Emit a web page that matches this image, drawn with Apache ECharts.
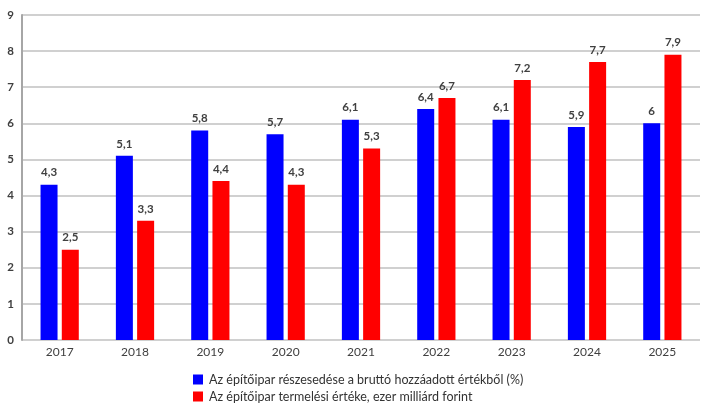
<!DOCTYPE html>
<html>
<head>
<meta charset="utf-8">
<script src="https://cdn.jsdelivr.net/npm/echarts@6/dist/echarts.min.js"></script>
<style>
  html, body { margin: 0; padding: 0; background: #fff; }
  #chart { width: 707px; height: 404px; }
</style>
</head>
<body>
<div id="chart"></div>
<script>
// Years on the category axis
const years = ['2017', '2018', '2019', '2020', '2021', '2022', '2023', '2024', '2025'];
// Share of construction in gross value added (%)
const shareValues = [4.3, 5.1, 5.8, 5.7, 6.1, 6.4, 6.1, 5.9, 6];
// Construction output, thousand billion forint
const outputValues = [2.5, 3.3, 4.4, 4.3, 5.3, 6.7, 7.2, 7.7, 7.9];
const seriesNames = [
  'Az építőipar részesedése a bruttó hozzáadott értékből (%)',
  'Az építőipar termelési értéke, ezer milliárd forint'
];

const font = 'Lato, "Open Sans", "Liberation Sans", sans-serif';
const fmt = v => String(v).replace('.', ',');

const chart = echarts.init(document.getElementById('chart'), null, { renderer: 'canvas' });

const labelStyle = {
  show: true,
  position: 'top',
  distance: 6,
  color: '#404040',
  fontFamily: font,
  fontSize: 11.5,
  fontWeight: 'bold',
  formatter: p => fmt(p.value)
};

// One legend row per series, stacked under the plot
const legendRow = (name, top) => ({
  orient: 'horizontal',
  left: 193,
  top: top,
  padding: 0,
  itemWidth: 10,
  itemHeight: 10,
  icon: 'rect',
  textStyle: { color: '#333', fontSize: 12.5, fontFamily: font, padding: [0, 0, 0, 1] },
  data: [name]
});

chart.setOption({
  animation: false,
  textStyle: { fontFamily: font },
  grid: { left: 22, right: 7, top: 15, bottom: 64, containLabel: false },
  legend: [legendRow(seriesNames[0], 373), legendRow(seriesNames[1], 390)],
  xAxis: {
    type: 'category',
    data: years,
    axisLine: { show: false },
    axisTick: { show: false },
    axisLabel: { color: '#404040', fontSize: 12, fontFamily: font, margin: 6 }
  },
  yAxis: {
    type: 'value',
    min: 0,
    max: 9,
    interval: 1,
    axisLine: { show: true, lineStyle: { color: '#a6a6a6', width: 2 } },
    axisTick: { show: false },
    axisLabel: { color: '#404040', fontSize: 11.5, fontFamily: font, fontWeight: 'bold', margin: 8 },
    splitLine: { show: true, lineStyle: { color: '#d0d0d0', width: 2 } }
  },
  series: [
    {
      name: seriesNames[0],
      type: 'bar',
      data: shareValues,
      barWidth: 17,
      barGap: '25%',
      itemStyle: { color: '#0000ff' },
      label: labelStyle
    },
    {
      name: seriesNames[1],
      type: 'bar',
      data: outputValues,
      barWidth: 17,
      itemStyle: { color: '#ff0000' },
      label: labelStyle
    }
  ]
});
</script>
</body>
</html>
